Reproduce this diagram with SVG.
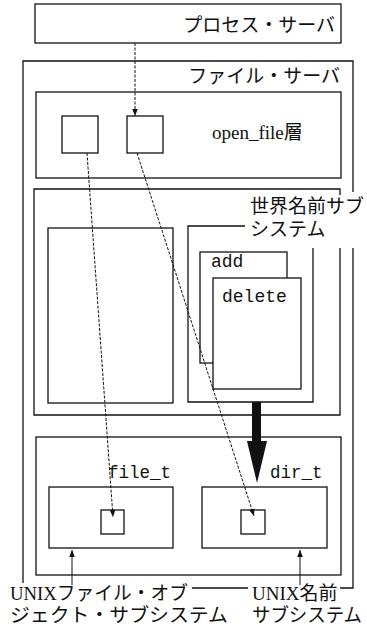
<svg xmlns="http://www.w3.org/2000/svg" width="367" height="629" viewBox="0 0 367 629">
<style>
.b{fill:none;stroke:#111;stroke-width:1.3}
.w{fill:#fff;stroke:#111;stroke-width:1.3}
.jp{font-family:"Liberation Serif","Noto Sans CJK JP",serif;font-size:19px;fill:#111}
.mono{font-family:"Liberation Mono",monospace;font-size:18px;fill:#111}
.d{fill:none;stroke:#111;stroke-width:1;stroke-dasharray:3,1.5}
.p{fill:none;stroke:#111;stroke-width:1}
</style>
<defs>
<marker id="ah" viewBox="0 0 10 10" refX="10" refY="5" markerWidth="7" markerHeight="7" orient="auto" markerUnits="userSpaceOnUse">
<path d="M0,1 L10,5 L0,9 Z" fill="#111"/>
</marker>
</defs>
<rect width="367" height="629" fill="#fff"/>
<g id="process-server">
<rect class="b" x="35" y="4" width="306" height="39"/>
<text class="jp" x="335" y="32" text-anchor="end">プロセス・サーバ</text>
</g>
<g id="file-server">
<path class="b" d="M23,583 L23,61 L353,61 L353,192 M353,248 L353,588 L340,588 M248,588 L192,588"/>
<text class="jp" x="340" y="83" text-anchor="end">ファイル・サーバ</text>
</g>
<g id="open-file-layer">
<rect class="b" x="36" y="92" width="305" height="86"/>
<text class="jp" x="212" y="139">open_file層</text>
</g>
<g id="open-file-1"><rect class="b" x="62" y="116" width="36" height="37"/></g>
<g id="open-file-2"><rect class="b" x="127" y="116" width="36" height="37"/></g>
<g id="world-name-subsystem">
<path class="b" d="M340,195 L340,189 L34,189 L34,415 L340,415 L340,248"/>
<text class="jp" x="250" y="213">世界名前サブ</text>
<text class="jp" x="250" y="236">システム</text>
</g>
<g id="world-left"><rect class="b" x="48" y="228" width="125" height="175"/></g>
<g id="world-right"><path class="b" d="M245,226 L188,226 L188,402 L313,402 L313,248"/></g>
<g id="add">
<rect class="w" x="200" y="252" width="87" height="111"/>
<text class="mono" x="211" y="267">add</text>
</g>
<g id="delete">
<rect class="w" x="213" y="278" width="88" height="111"/>
<text class="mono" x="222" y="302">delete</text>
</g>
<g id="unix-layer"><rect class="b" x="36" y="437" width="305" height="138"/></g>
<g id="file-t">
<rect class="b" x="49" y="487" width="124" height="61"/>
<rect class="b" x="101" y="510" width="23" height="24"/>
<text class="mono" x="108" y="478" style="font-size:17.5px">file_t</text>
</g>
<g id="dir-t">
<rect class="b" x="202" y="487" width="125" height="61"/>
<rect class="b" x="241" y="510" width="24" height="24"/>
<text class="mono" x="270" y="478" style="font-size:17.5px">dir_t</text>
</g>
<g id="labels">
<text class="jp" x="10" y="600" textLength="178" lengthAdjust="spacingAndGlyphs">UNIXファイル・オブ</text>
<text class="jp" x="10" y="622" textLength="218" lengthAdjust="spacingAndGlyphs">ジェクト・サブシステム</text>
<text class="jp" x="252" y="600">UNIX名前</text>
<text class="jp" x="252" y="622" textLength="110" lengthAdjust="spacingAndGlyphs">サブシステム</text>
</g>
<g id="connectors">
<line class="d" x1="135" y1="43" x2="135" y2="116" marker-end="url(#ah)"/>
<line class="d" x1="87" y1="153" x2="113" y2="517" marker-end="url(#ah)"/>
<line class="d" x1="137" y1="153" x2="254" y2="516" marker-end="url(#ah)"/>
<polygon points="252,402 261,402 261,441 267,441 257,483 247,441 252,441" fill="#111"/>
<line class="p" x1="72" y1="585" x2="72" y2="550" marker-end="url(#ah)"/>
<line class="p" x1="300" y1="585" x2="300" y2="550" marker-end="url(#ah)"/>
</g>
</svg>
